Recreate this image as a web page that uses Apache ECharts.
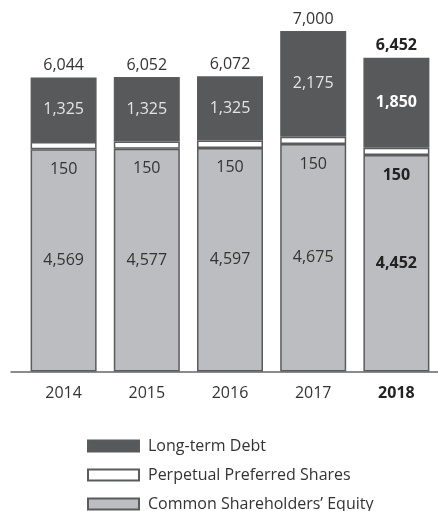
<!DOCTYPE html>
<html>
<head>
<meta charset="utf-8">
<script src="https://cdn.jsdelivr.net/npm/echarts@6/dist/echarts.min.js"></script>
<style>
  html, body { margin: 0; padding: 0; background: #fff; }
  #chart { width: 438px; height: 511px; }
</style>
</head>
<body>
<div id="chart"></div>
<script>
// Capital structure by year (millions)
const years = ['2014', '2015', '2016', '2017', '2018'];
const commonEquity = [4569, 4577, 4597, 4675, 4452];
const preferredShares = [150, 150, 150, 150, 150];
const longTermDebt = [1325, 1325, 1325, 2175, 1850];
const highlightYear = '2018';

const FONT = '"Open Sans", "Noto Sans", sans-serif';
const FS = 16;
const BORDER = '#5a5b5d';
const fmt = v => v.toLocaleString('en-US');
const totals = years.map((_, i) => commonEquity[i] + preferredShares[i] + longTermDebt[i]);
const isHi = i => years[i] === highlightYear;

function items(values, normalColor, hiColor) {
  return values.map((v, i) => ({
    value: v,
    label: isHi(i) ? { fontWeight: 'bold', color: hiColor } : { color: normalColor }
  }));
}

const chart = echarts.init(document.getElementById('chart'), null, { renderer: 'canvas' });

chart.setOption({
  animation: false,
  textStyle: { fontFamily: FONT },
  grid: [
    { left: 22, right: 0, top: 31, bottom: 139.5 },
    { left: 11, right: 0, top: 31, bottom: 139.5 }
  ],
  xAxis: [
    {
      type: 'category', data: years, gridIndex: 0,
      axisLine: { show: false }, axisTick: { show: false },
      axisLabel: {
        interval: 0, margin: 14, fontSize: FS, color: '#333', fontFamily: FONT,
        formatter: v => v === highlightYear ? '{b|' + v + '}' : v,
        rich: { b: { fontWeight: 'bold', fontSize: FS, color: '#222', fontFamily: FONT } }
      }
    },
    {
      type: 'category', data: years, gridIndex: 1,
      axisLine: { show: true, lineStyle: { color: '#666', width: 1.5 } },
      axisTick: { show: false }, axisLabel: { show: false }
    }
  ],
  yAxis: [
    { type: 'value', min: 0, max: 7000, gridIndex: 0, show: false },
    { type: 'value', min: 0, max: 7000, gridIndex: 1, show: false }
  ],
  legend: {
    orient: 'vertical', left: 87, top: 438, padding: 0, height: 80,
    icon: 'rect', itemWidth: 51, itemHeight: 11, itemGap: 13,
    data: ['Long-term Debt', 'Perpetual Preferred Shares', 'Common Shareholders’ Equity'],
    textStyle: { fontSize: 16, color: '#333', fontFamily: FONT, padding: [0, 0, 0, 4] }
  },
  series: [
    {
      name: 'Common Shareholders’ Equity', type: 'bar', stack: 'cap', barWidth: 66,
      itemStyle: { color: '#bcbdc0', borderColor: BORDER, borderWidth: 1.5 },
      label: { show: true, position: 'inside', fontSize: FS, formatter: p => fmt(p.value) },
      data: items(commonEquity, '#333', '#222')
    },
    {
      name: 'Perpetual Preferred Shares', type: 'bar', stack: 'cap', barWidth: 66,
      itemStyle: { color: '#ffffff', borderColor: BORDER, borderWidth: 1.5 },
      label: { show: true, position: 'bottom', distance: 12, fontSize: FS, formatter: p => fmt(p.value) },
      data: items(preferredShares, '#333', '#222')
    },
    {
      name: 'Long-term Debt', type: 'bar', stack: 'cap', barWidth: 66,
      itemStyle: { color: '#58595b', borderColor: BORDER, borderWidth: 1.5 },
      label: { show: true, position: 'inside', fontSize: FS, formatter: p => fmt(p.value) },
      data: items(longTermDebt, '#e4e4e4', '#ffffff')
    },
    {
      name: 'Total', type: 'bar', stack: 'cap', barWidth: 66,
      itemStyle: { color: 'transparent', borderWidth: 0 },
      label: {
        show: true, position: 'top', distance: 4, fontSize: FS,
        formatter: p => fmt(totals[p.dataIndex])
      },
      data: totals.map((t, i) => ({
        value: 0,
        label: isHi(i) ? { fontWeight: 'bold', color: '#222' } : { color: '#333' }
      }))
    }
  ]
});
</script>
</body>
</html>
